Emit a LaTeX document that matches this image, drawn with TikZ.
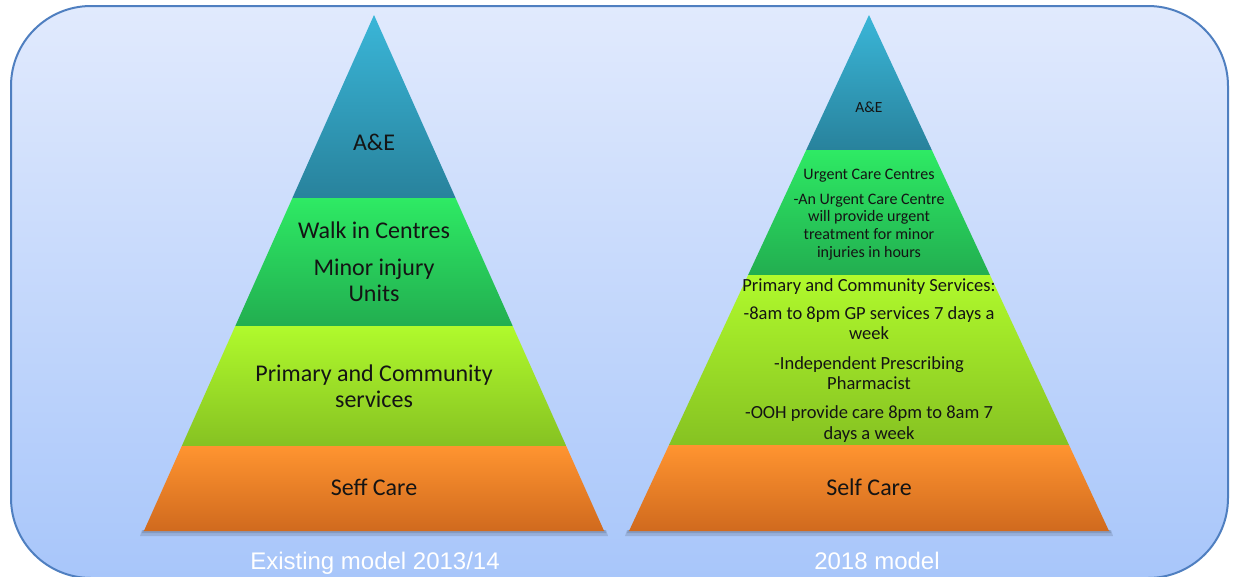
\documentclass[tikz,border=0pt]{standalone}
\usepackage{fontspec}
\setmainfont{Carlito}
\newfontfamily\arialf{Liberation Sans}
\definecolor{bgtop}{HTML}{E1EAFD}
\definecolor{bgbot}{HTML}{A8C6FA}
\definecolor{bordc}{HTML}{4F7FC0}
\definecolor{aetop}{HTML}{3AB6D8}
\definecolor{aebot}{HTML}{28829C}
\definecolor{grtop}{HTML}{2EEA64}
\definecolor{grbot}{HTML}{22AE50}
\definecolor{litop}{HTML}{B0FA2C}
\definecolor{libot}{HTML}{86C222}
\definecolor{ortop}{HTML}{FF9430}
\definecolor{orbot}{HTML}{D06A1E}
\definecolor{txt}{HTML}{141414}
\begin{document}
\begin{tikzpicture}[x=1pt,y=-1pt,
  ae/.style={top color=aetop,bottom color=aebot},
  gr/.style={top color=grtop,bottom color=grbot},
  li/.style={top color=litop,bottom color=libot},
  orl/.style={top color=ortop,bottom color=orbot},
  shad/.style={fill=black,opacity=0.12},
  big/.style={font=\fontsize{24}{29}\selectfont,text=txt,anchor=base,inner sep=0pt},
  mid/.style={font=\fontsize{18.5}{22}\selectfont,text=txt,anchor=base,inner sep=0pt},
  small/.style={font=\fontsize{16}{19}\selectfont,text=txt,anchor=base,inner sep=0pt},
  tiny/.style={font=\fontsize{15.5}{18}\selectfont,text=txt,anchor=base,inner sep=0pt},
  caption/.style={font=\arialf\fontsize{24}{28}\selectfont,text=white,anchor=base,inner sep=0pt}]
\useasboundingbox (0,0) rectangle (1235,576);
\clip (0,0) rectangle (1235,576);
% background panel
\shade[top color=bgtop,bottom color=bgbot,rounded corners=80pt] (11,6) rectangle (1228,578);
\draw[bordc,line width=2pt,rounded corners=80pt] (11,6) rectangle (1228,578);

% ---------- left pyramid ----------
\fill[shad] (142,530) -- (606,530) -- (608,536) -- (140,536) -- cycle;
\fill[shad] (143,530) -- (605,530) -- (606,533) -- (142,533) -- cycle;
\shade[ae] (374,15) -- (455.6,198) -- (292.4,198) -- cycle;
\shade[gr] (292.4,198) -- (455.6,198) -- (512.7,326) -- (235.3,326) -- cycle;
\shade[li] (235.3,326) -- (512.7,326) -- (566.2,446) -- (181.8,446) -- cycle;
\shade[orl] (181.8,446) -- (566.2,446) -- (604.1,531) -- (143.9,531) -- cycle;

\node[big] (lae) at (374,150) {A\&E};
\node[big] (lw1) at (374,238) {Walk in Centres};
\node[big] (lw2) at (374,275) {Minor injury};
\node[big] (lw3) at (374,301) {Units};
\node[big] (lp1) at (374,381) {Primary and Community};
\node[big] (lp2) at (374,407) {services};
\node[big] (ls) at (374,495) {Seff Care};
\node[caption] (lcap) at (375,569) {Existing model 2013/14};

% ---------- right pyramid ----------
\fill[shad] (627,530) -- (1111,530) -- (1113,536) -- (625,536) -- cycle;
\fill[shad] (628,530) -- (1110,530) -- (1111,533) -- (627,533) -- cycle;
\shade[ae] (869,15) -- (931.8,150) -- (806.2,150) -- cycle;
\shade[gr] (806.2,150) -- (931.8,150) -- (989.9,275) -- (748.1,275) -- cycle;
\shade[li] (748.1,275) -- (989.9,275) -- (1069,445) -- (669,445) -- cycle;
\shade[orl] (669,445) -- (1069,445) -- (1109,531) -- (629,531) -- cycle;

\node[tiny] (rae) at (869,112) {A\&E};
\node[small] (ru1) at (869,179) {Urgent Care Centres};
\node[small] (ru2) at (869,204) {-An Urgent Care Centre};
\node[small] (ru3) at (869,221) {will provide urgent};
\node[small] (ru4) at (869,239) {treatment for minor};
\node[small] (ru5) at (869,257) {injuries in hours};
\node[mid] (rp1) at (869,291) {Primary and Community Services:};
\node[mid] (rp2) at (869,319) {-8am to 8pm GP services 7 days a};
\node[mid] (rp3) at (869,339) {week};
\node[mid] (rp4) at (869,369) {-Independent Prescribing};
\node[mid] (rp5) at (869,389) {Pharmacist};
\node[mid] (rp6) at (869,418) {-OOH provide care 8pm to 8am 7};
\node[mid] (rp7) at (869,439) {days a week};
\node[big] (rs) at (869,495) {Self Care};
\node[caption] (rcap) at (877,569) {2018 model};
\end{tikzpicture}
\end{document}
